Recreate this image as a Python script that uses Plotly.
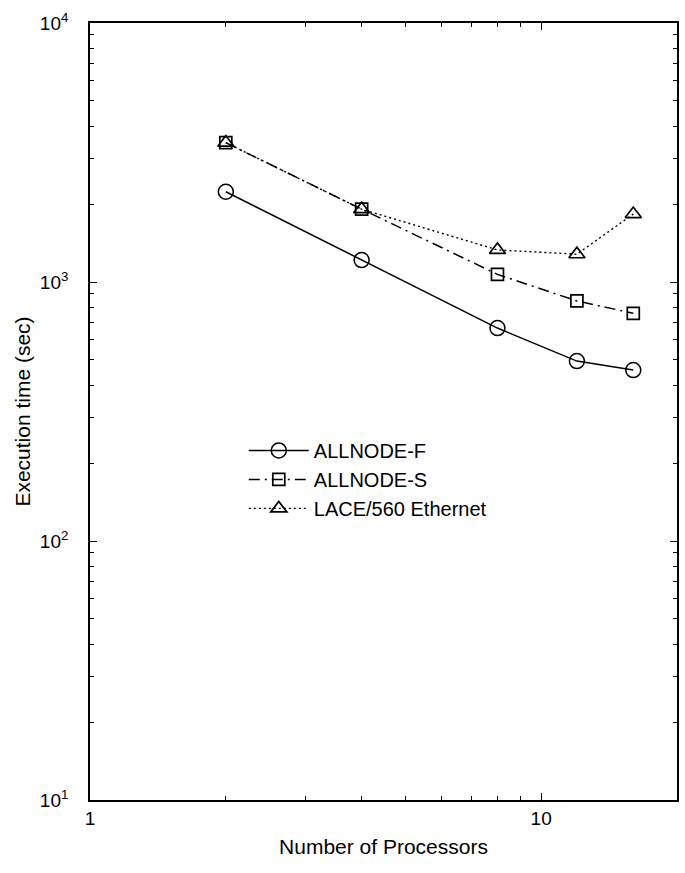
import plotly.graph_objects as go

processors = [2, 4, 8, 12, 16]
allnode_f = [2230, 1215, 664, 495, 457]
allnode_s = [3450, 1910, 1070, 845, 757]
lace_eth = [3450, 1910, 1330, 1280, 1830]

series_names = ["ALLNODE-F", "ALLNODE-S", "LACE/560 Ethernet"]
x_tick_vals = [1, 10]
x_tick_text = ["1", "10"]
x_minor_vals = [2, 3, 4, 5, 6, 7, 8, 9, 20]
y_tick_vals = [10, 100, 1000, 10000]
y_tick_text = ["10<sup>1</sup>", "10<sup>2</sup>", "10<sup>3</sup>", "10<sup>4</sup>"]
y_minor_vals = [20, 30, 40, 50, 60, 70, 80, 90,
                200, 300, 400, 500, 600, 700, 800, 900,
                2000, 3000, 4000, 5000, 6000, 7000, 8000, 9000]

FONT = "Liberation Sans, Arial, Helvetica, sans-serif"

fig = go.Figure()
fig.add_trace(go.Scatter(
    x=processors, y=allnode_f, name=series_names[0], mode="lines+markers",
    line=dict(color="black", width=1.5, dash="solid"),
    marker=dict(symbol="circle-open", size=15, color="black", line=dict(width=1.5)),
))
fig.add_trace(go.Scatter(
    x=processors, y=allnode_s, name=series_names[1], mode="lines+markers",
    line=dict(color="black", width=1.5, dash="11px,5px,2px,5px"),
    marker=dict(symbol="square-open", size=12, color="black", line=dict(width=1.7)),
))
fig.add_trace(go.Scatter(
    x=processors, y=lace_eth, name=series_names[2], mode="lines+markers",
    line=dict(color="black", width=1.4, dash="2px,3px"),
    marker=dict(symbol="triangle-up-open", size=14, color="black", line=dict(width=1.7)),
))

axis_common = dict(
    type="log", showgrid=False, zeroline=False, showline=True, linecolor="black",
    linewidth=1.6, mirror="ticks", ticks="inside", ticklen=7, tickwidth=1.2,
    tickcolor="black", tickfont=dict(family=FONT, size=19, color="black"),
)

fig.update_xaxes(
    **axis_common, range=[0, 1.30103],
    tickvals=x_tick_vals, ticktext=x_tick_text,
    minor=dict(ticks="inside", ticklen=4, tickwidth=1, tickcolor="black",
               showgrid=False, tickvals=x_minor_vals),
    title=dict(text="Number of Processors", font=dict(family=FONT, size=21, color="black"), standoff=12),
)
fig.update_yaxes(
    **axis_common, range=[1, 4],
    tickvals=y_tick_vals, ticktext=y_tick_text, ticklabelstandoff=16,
    minor=dict(ticks="inside", ticklen=4, tickwidth=1, tickcolor="black",
               showgrid=False, tickvals=y_minor_vals),
    title=dict(text="Execution time (sec)", font=dict(family=FONT, size=21, color="black"), standoff=4),
)

fig.update_layout(
    width=685, height=873,
    margin=dict(l=90, r=6, t=23, b=73),
    paper_bgcolor="white", plot_bgcolor="white",
    font=dict(family=FONT, color="black"),
    showlegend=True,
    legend=dict(
        x=0.262, y=0.475, xanchor="left", yanchor="top",
        bgcolor="rgba(0,0,0,0)", borderwidth=0,
        font=dict(family=FONT, size=20, color="black"),
        tracegroupgap=0, itemwidth=60,
    ),
)

fig.write_html("out.html")
